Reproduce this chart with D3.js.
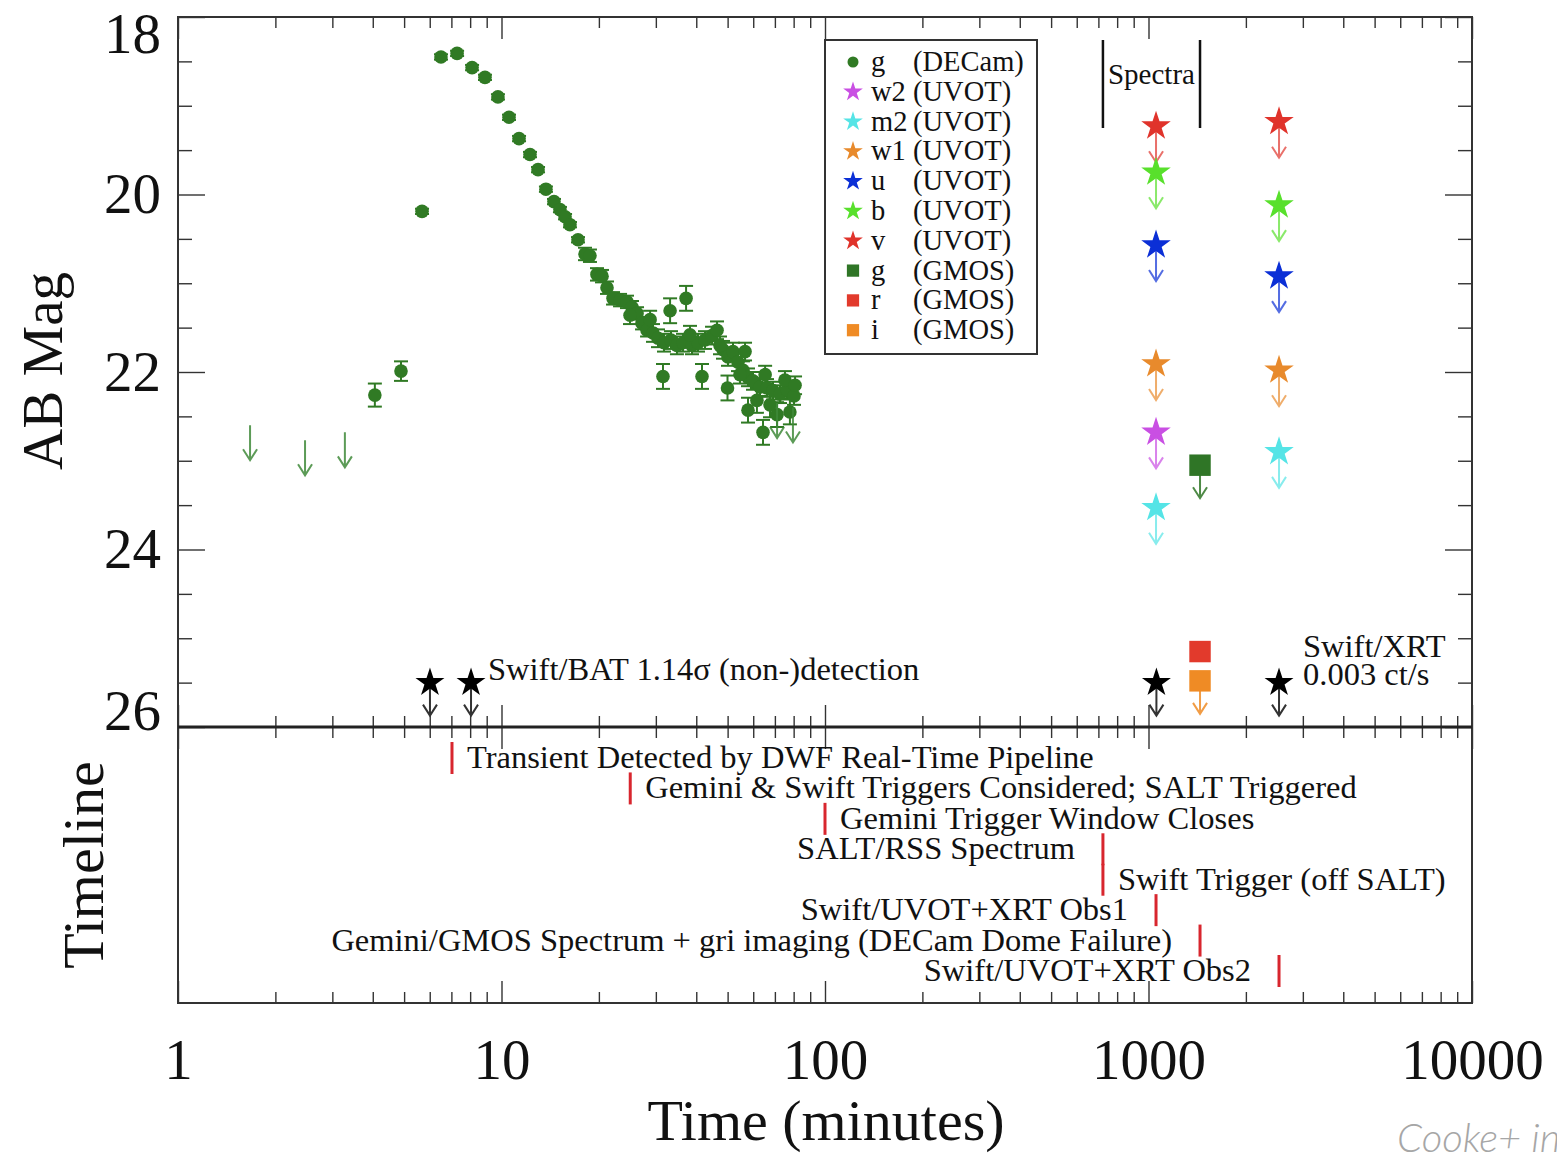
<!DOCTYPE html>
<html>
<head>
<meta charset="utf-8">
<script src="https://cdn.jsdelivr.net/npm/d3@7"></script>
<style>
  html, body { margin: 0; padding: 0; background: #fff; overflow: hidden; }
  svg { display: block; font-family: "Liberation Serif", "DejaVu Serif", serif; }
</style>
</head>
<body>
<div id="chart"></div>
<script>
// DECam g-band detections (time in minutes, AB mag, 1 sigma error)
const decamT = [4.06, 4.89, 5.68, 6.50, 7.29, 8.11, 8.89, 9.75, 10.55, 11.33, 12.25, 12.97, 13.72, 14.53, 15.16, 15.72,
  16.28, 17.24, 18.12, 18.77, 19.73, 20.45, 21.19, 22.12, 23.25, 24.43, 25.32, 26.24, 27.19, 28.18, 29.40, 30.46,
  31.79, 33.41, 34.86, 36.39, 38.80, 40.50, 42.57, 44.75, 46.37, 48.38, 50.14, 51.95, 53.83, 55.79, 57.81, 59.90,
  62.96, 66.18, 69.07, 72.6, 76.3, 80.2, 33.2, 37.2, 31.56, 41.67, 49.96, 57.81, 64.33, 71.1, 77.9, 61.6, 67.6,
  24.96, 28.8, 38.25, 47.36, 54.6, 65.3, 75.2, 80.8, 56.6];
const decamMag = [22.26, 21.99, 20.19, 18.45, 18.41, 18.57, 18.68, 18.90, 19.13, 19.37, 19.55, 19.72, 19.94, 20.08, 20.17, 20.25,
  20.34, 20.51, 20.67, 20.69, 20.90, 20.92, 21.05, 21.17, 21.19, 21.21, 21.27, 21.34, 21.45, 21.53, 21.56, 21.62,
  21.67, 21.64, 21.70, 21.67, 21.70, 21.67, 21.64, 21.59, 21.53, 21.75, 21.83, 21.77, 21.89, 21.98, 22.06, 22.10,
  22.17, 22.18, 22.21, 22.25, 22.20, 22.27, 21.31, 21.17, 22.05, 22.05, 22.18, 22.43, 22.68, 22.48, 22.45, 22.32, 22.37,
  21.36, 21.41, 21.58, 21.70, 22.03, 22.03, 22.09, 22.15, 21.77];
const decamErr = [0.13, 0.11,
  0.03, 0.03, 0.03, 0.03, 0.03, 0.03, 0.03, 0.03, 0.03, 0.03, 0.03, 0.03, 0.03, 0.03, 0.03, 0.03,
  0.07, 0.07, 0.07, 0.07, 0.07, 0.07, 0.07, 0.07, 0.07, 0.07, 0.07, 0.07,
  0.1, 0.1, 0.1, 0.1, 0.1, 0.1, 0.1, 0.1, 0.1, 0.1, 0.1, 0.1, 0.1, 0.1, 0.1, 0.1, 0.1, 0.1, 0.1, 0.1, 0.1, 0.1, 0.1, 0.1,
  0.14, 0.14, 0.14, 0.14, 0.14, 0.14, 0.14, 0.14, 0.14, 0.14, 0.14,
  0.1, 0.1, 0.1, 0.1, 0.1, 0.1, 0.1, 0.1, 0.1];

// DECam g-band upper limits
const decamLimT = [1.67, 2.47, 3.28, 71.1, 79.6];
const decamLimMag = [22.60, 22.77, 22.68, 22.35, 22.40];

// Swift/UVOT upper limits, two visits
const uvotBand = ["v", "b", "u", "w1", "w2", "m2", "v", "b", "u", "w1", "m2"];
const uvotT = [1055, 1055, 1055, 1055, 1055, 1055, 2532, 2532, 2532, 2532, 2532];
const uvotMag = [19.23, 19.75, 20.57, 21.91, 22.68, 23.53, 19.18, 20.12, 20.92, 21.98, 22.90];

// Gemini/GMOS imaging
const gmosBand = ["gG", "rG", "iG"];
const gmosT = [1443, 1443, 1443];
const gmosMag = [23.05, 25.15, 25.48];
const gmosIsLimit = [true, false, true];

// Swift/BAT and Swift/XRT non-detections (plotted at a nominal 25.5 mag)
const highEnergyT = [6.01, 8.05, 1058, 2532];
const highEnergyMag = [25.5, 25.5, 25.5, 25.5];

// spectra window
const spectraT = [723, 1443];

// timeline
const eventLabels = [
  "Transient Detected by DWF Real-Time Pipeline",
  "Gemini & Swift Triggers Considered; SALT Triggered",
  "Gemini Trigger Window Closes",
  "SALT/RSS Spectrum",
  "Swift Trigger (off SALT)",
  "Swift/UVOT+XRT Obs1",
  "Gemini/GMOS Spectrum + gri imaging (DECam Dome Failure)",
  "Swift/UVOT+XRT Obs2"
];
const eventT = [7.03, 25, 100, 723, 723, 1055, 1443, 2532];
const eventRow = [0, 1, 2, 3, 4, 5, 6, 7];
const eventSide = ["right", "right", "right", "left", "right", "left", "left", "left"];

// legend
const legendBand = ["g", "w2", "m2", "w1", "u", "b", "v", "g", "r", "i"];
const legendInstrument = ["(DECam)", "(UVOT)", "(UVOT)", "(UVOT)", "(UVOT)", "(UVOT)", "(UVOT)", "(GMOS)", "(GMOS)", "(GMOS)"];
const legendKey = ["gD", "w2", "m2", "w1", "u", "b", "v", "gG", "rG", "iG"];

const xTickLabels = [1, 10, 100, 1000, 10000];
const yTickLabels = [18, 20, 22, 24, 26];

const COLORS = {
  gD: "#307a24", w2: "#c94fe3", m2: "#55e4e6", w1: "#e88a2c", u: "#0b2fd6",
  b: "#58e02c", v: "#e0332b", gG: "#2f7526", rG: "#e23a2c", iG: "#ef8b25"
};

const W = 1557, H = 1153;
const LEFT = 178, RIGHT = 1472, TOP = 17, MID = 727, BOTTOM = 1003;

const svg = d3.select("#chart").append("svg")
  .attr("width", W)
  .attr("height", H);

const x = d3.scaleLog().domain([1, 10000]).range([LEFT, RIGHT]);
const y = d3.scaleLinear().domain([18, 26]).range([TOP, MID]);
const row = d3.scaleLinear().domain([0, 7]).range([758, 971]);

/**
 * draws a set of tick marks with no labels and no domain line
 */
function ticks(axisFn, scale, values, size, transform, width) {
  svg.append("g")
    .attr("transform", transform)
    .call(axisFn(scale).tickValues(values).tickSize(size).tickFormat(""))
    .call(g => g.select(".domain").remove())
    .selectAll("line")
    .attr("stroke", "#333")
    .attr("stroke-width", width || 1.4);
}

/**
 * draws an upper limit arrow pointing to fainter magnitudes
 */
function limitArrow(g, cx, cy, len, color, opacity) {
  const p = d3.path();
  p.moveTo(cx, cy);
  p.lineTo(cx, cy + len);
  p.moveTo(cx - 7, cy + len - 11);
  p.lineTo(cx, cy + len);
  p.lineTo(cx + 7, cy + len - 11);
  g.append("path")
    .attr("d", p.toString())
    .attr("fill", "none")
    .attr("stroke", color)
    .attr("stroke-opacity", opacity)
    .attr("stroke-width", 2);
}

// --- axes ticks ---
const minorX = [];
[1, 10, 100, 1000].forEach(d => d3.range(2, 10).forEach(k => minorX.push(d * k)));
const minorY = d3.range(18, 26.01, 0.5).filter(v => v % 2 !== 0);

ticks(d3.axisBottom, x, xTickLabels, 22, `translate(0,${TOP})`);
ticks(d3.axisBottom, x, minorX, 11, `translate(0,${TOP})`);
ticks(d3.axisTop, x, xTickLabels, 22, `translate(0,${MID})`);
ticks(d3.axisTop, x, minorX, 11, `translate(0,${MID})`);
ticks(d3.axisBottom, x, xTickLabels, 22, `translate(0,${MID})`);
ticks(d3.axisBottom, x, minorX, 11, `translate(0,${MID})`);
ticks(d3.axisTop, x, xTickLabels, 22, `translate(0,${BOTTOM})`);
ticks(d3.axisTop, x, minorX, 11, `translate(0,${BOTTOM})`);
ticks(d3.axisRight, y, yTickLabels, 27, `translate(${LEFT},0)`);
ticks(d3.axisRight, y, minorY, 14, `translate(${LEFT},0)`);
ticks(d3.axisLeft, y, yTickLabels, 27, `translate(${RIGHT},0)`);
ticks(d3.axisLeft, y, minorY, 14, `translate(${RIGHT},0)`);

// frames
svg.append("rect")
  .attr("x", LEFT).attr("y", TOP)
  .attr("width", RIGHT - LEFT).attr("height", BOTTOM - TOP)
  .attr("fill", "none").attr("stroke", "#333").attr("stroke-width", 2);
svg.append("line")
  .attr("x1", LEFT).attr("x2", RIGHT)
  .attr("y1", MID).attr("y2", MID)
  .attr("stroke", "#222").attr("stroke-width", 3);

// tick labels
const xLab = svg.append("g")
  .attr("transform", `translate(0,${BOTTOM})`)
  .call(d3.axisBottom(x).tickValues(xTickLabels).tickSize(0).tickPadding(36).tickFormat(d3.format("d")));
xLab.select(".domain").remove();
xLab.selectAll("text").attr("font-size", 57).attr("font-family", "Liberation Serif, serif").attr("fill", "#111");

const yLab = svg.append("g")
  .attr("transform", `translate(${LEFT},0)`)
  .call(d3.axisLeft(y).tickValues(yTickLabels).tickSize(0).tickPadding(17).tickFormat(d3.format("d")));
yLab.select(".domain").remove();
yLab.selectAll("text")
  .attr("font-size", 57).attr("font-family", "Liberation Serif, serif").attr("fill", "#111")
  .attr("dy", d => d === 18 ? "0.62em" : d === 26 ? "0.05em" : "0.32em");

// axis titles
svg.append("text")
  .attr("x", (x(1) + x(10000)) / 2 + 1).attr("y", 1140)
  .attr("text-anchor", "middle").attr("font-size", 58).attr("fill", "#111")
  .text("Time (minutes)");
svg.append("text")
  .attr("transform", "translate(62,371) rotate(-90)")
  .attr("text-anchor", "middle").attr("font-size", 57).attr("fill", "#111")
  .text("AB Mag");
svg.append("text")
  .attr("transform", "translate(103,865) rotate(-90)")
  .attr("text-anchor", "middle").attr("font-size", 58).attr("fill", "#111")
  .text("Timeline");

const plot = svg.append("g");

// --- DECam g ---
const errG = plot.append("g").attr("stroke", COLORS.gD).attr("stroke-width", 2);
decamT.forEach((t, i) => {
  const cx = x(t), y0 = y(decamMag[i] - decamErr[i]), y1 = y(decamMag[i] + decamErr[i]);
  errG.append("line").attr("x1", cx).attr("x2", cx).attr("y1", y0).attr("y2", y1);
  errG.append("line").attr("x1", cx - 7).attr("x2", cx + 7).attr("y1", y0).attr("y2", y0);
  errG.append("line").attr("x1", cx - 7).attr("x2", cx + 7).attr("y1", y1).attr("y2", y1);
});
plot.append("g").selectAll("circle")
  .data(decamT)
  .join("circle")
  .attr("cx", d => x(d))
  .attr("cy", (d, i) => y(decamMag[i]))
  .attr("r", 6.8)
  .attr("fill", COLORS.gD);

decamLimT.forEach((t, i) => limitArrow(plot, x(t), y(decamLimMag[i]), 35, "#3f8a3a", 0.85));

// --- Swift/UVOT limits ---
const star = d3.symbol().type(d3.symbolStar).size(270);
uvotT.forEach((t, i) => {
  const c = COLORS[uvotBand[i]];
  limitArrow(plot, x(t), y(uvotMag[i]), 36, c, 0.7);
  plot.append("path")
    .attr("d", star())
    .attr("transform", `translate(${x(t)},${y(uvotMag[i])})`)
    .attr("fill", c);
});

// --- GMOS ---
const square = d3.symbol().type(d3.symbolSquare).size(460);
gmosT.forEach((t, i) => {
  const c = COLORS[gmosBand[i]];
  if (gmosIsLimit[i]) limitArrow(plot, x(t), y(gmosMag[i]), 33, c, 0.85);
  plot.append("path")
    .attr("d", square())
    .attr("transform", `translate(${x(t)},${y(gmosMag[i])})`)
    .attr("fill", c);
});

// --- Swift/BAT and XRT ---
const blackStar = d3.symbol().type(d3.symbolStar).size(260);
highEnergyT.forEach((t, i) => {
  limitArrow(plot, x(t), y(highEnergyMag[i]), 33, "#333", 1);
  plot.append("path")
    .attr("d", blackStar())
    .attr("transform", `translate(${x(t)},${y(highEnergyMag[i])})`)
    .attr("fill", "#000");
});

const ann = svg.append("g").attr("fill", "#111").attr("font-size", 32.5);
ann.append("text")
  .attr("x", x(highEnergyT[1]) + 17).attr("y", 680)
  .text("Swift/BAT 1.14\u03c3 (non-)detection");
ann.append("text")
  .attr("x", x(highEnergyT[3]) + 24).attr("y", 657)
  .text("Swift/XRT");
ann.append("text")
  .attr("x", x(highEnergyT[3]) + 24).attr("y", 685)
  .text("0.003 ct/s");

// spectra bracket
spectraT.forEach(t => {
  svg.append("line")
    .attr("x1", x(t)).attr("x2", x(t))
    .attr("y1", 40).attr("y2", 128)
    .attr("stroke", "#111").attr("stroke-width", 2.5);
});
svg.append("text")
  .attr("x", (x(spectraT[0]) + x(spectraT[1])) / 2).attr("y", 84)
  .attr("text-anchor", "middle").attr("font-size", 29).attr("fill", "#111")
  .text("Spectra");

// --- legend ---
const leg = svg.append("g");
leg.append("rect")
  .attr("x", 825).attr("y", 40).attr("width", 212).attr("height", 314)
  .attr("fill", "#fff").attr("stroke", "#333").attr("stroke-width", 2);
const legStar = d3.symbol().type(d3.symbolStar).size(120);
const legSquare = d3.symbol().type(d3.symbolSquare).size(150);
legendKey.forEach((k, i) => {
  const cy = 62 + i * 29.8;
  if (k === "gD") {
    leg.append("circle").attr("cx", 853).attr("cy", cy).attr("r", 5.5).attr("fill", COLORS[k]);
  } else {
    const sym = k.endsWith("G") ? legSquare : legStar;
    leg.append("path").attr("d", sym()).attr("transform", `translate(853,${cy})`).attr("fill", COLORS[k]);
  }
  leg.append("text").attr("x", 871).attr("y", cy + 9).attr("font-size", 28.5).attr("fill", "#111").text(legendBand[i]);
  leg.append("text").attr("x", 913).attr("y", cy + 9).attr("font-size", 28.5).attr("fill", "#111").text(legendInstrument[i]);
});

// --- timeline ---
const tl = svg.append("g");
eventT.forEach((t, i) => {
  const cx = x(t), cy = row(eventRow[i]);
  tl.append("line")
    .attr("x1", cx).attr("x2", cx)
    .attr("y1", cy - 16).attr("y2", cy + 16)
    .attr("stroke", "#d8262e").attr("stroke-width", 3);
  tl.append("text")
    .attr("x", eventSide[i] === "right" ? cx + 15 : cx - 28)
    .attr("y", cy + 10)
    .attr("text-anchor", eventSide[i] === "right" ? "start" : "end")
    .attr("font-size", 32.5)
    .attr("fill", "#111")
    .text(eventLabels[i]);
});

// credit (cut by the right edge, as in the source image)
svg.append("text")
  .attr("x", 1397).attr("y", 1152)
  .attr("font-family", "Lato, 'Open Sans', sans-serif")
  .attr("font-style", "italic").attr("font-weight", 300)
  .attr("font-size", 40).attr("fill", "#a6a6a6")
  .text("Cooke+ in");
</script>
</body>
</html>
